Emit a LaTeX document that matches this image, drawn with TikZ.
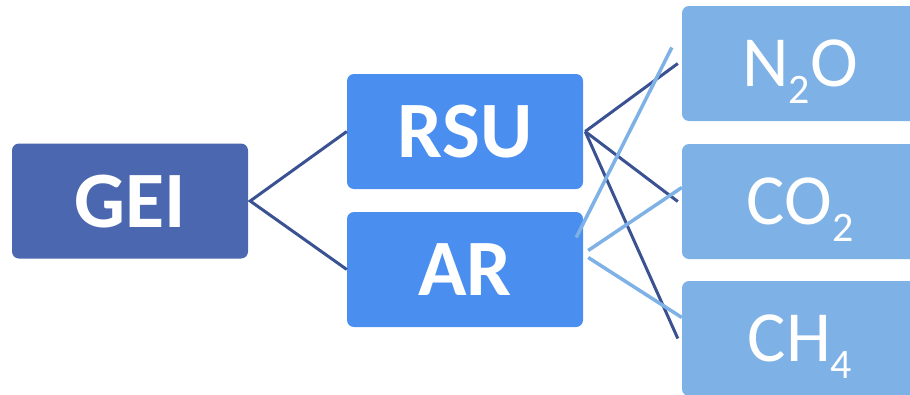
\documentclass[tikz,border=0pt]{standalone}
\usepackage{fontspec}
\setmainfont{Carlito}
\usetikzlibrary{calc}

\definecolor{geiblue}{HTML}{4A67AF}
\definecolor{srcblue}{HTML}{4A8EF0}
\definecolor{gasblue}{HTML}{7EB1E5}
\definecolor{linkdark}{HTML}{3B5292}

\tikzset{
  box/.style={rectangle, rounded corners=7pt, minimum width=236pt,
    minimum height=115pt, text=white, inner sep=0pt,
    text height=36pt, text depth=0pt},
  rootbox/.style={box, fill=geiblue, font=\fontsize{80}{80}\selectfont\bfseries,
    text height=52pt},
  srcbox/.style={box, fill=srcblue, font=\fontsize{80}{80}\selectfont\bfseries,
    text height=52pt},
  gasbox/.style={box, fill=gasblue, font=\fontsize{72}{72}\selectfont,
    text height=46pt},
  darklink/.style={draw=linkdark, line width=3pt},
  lightlink/.style={draw=gasblue, line width=3.5pt}
}
\newcommand{\gsub}[1]{\raisebox{-17pt}{\fontsize{42}{42}\selectfont #1}}

\begin{document}
\begin{tikzpicture}[x=1pt, y=-1pt]
    \useasboundingbox (0,0) rectangle (910,394);

    % Ebenen: GEI, Quellen, Gase
    \node[rootbox] (gei) at (130,201) {GEI};
    \node[srcbox] (rsu) at (465,131.5) {RSU};
    \node[srcbox] (ar) at (465,269.5) {AR};
    \node[gasbox] (n2o) at (800,63.5) {N\gsub{2}O};
    \node[gasbox] (co2) at (800,201.5) {CO\gsub{2}};
    \node[gasbox] (ch4) at (800,338.5) {CH\gsub{4}};

    % GEI -> Quellen
    \draw[darklink] (rsu.west) -- ($(gei.east)+(2,0)$) -- (ar.west);

    % RSU -> Gase
    \coordinate (rsuout) at ($(rsu.east)+(2,0)$);
    \draw[darklink] (rsuout) -- ($(n2o.west)+(-4,0)$);
    \draw[darklink] (rsuout) -- ($(co2.west)+(-4,0)$);
    \draw[darklink] (rsuout) -- ($(ch4.west)+(-4,0)$);

    % AR -> Gase (versetzt)
    \draw[lightlink] ($(ar.east)+(-7,-32)$) -- ($(n2o.west)+(-10,-16)$);
    \draw[lightlink] ($(ar.east)+(5,-19)$) -- ($(co2.west)+(0,-14)$);
    \draw[lightlink] ($(ar.east)+(5,-12)$) -- ($(ch4.west)+(0,-21)$);
\end{tikzpicture}
\end{document}
